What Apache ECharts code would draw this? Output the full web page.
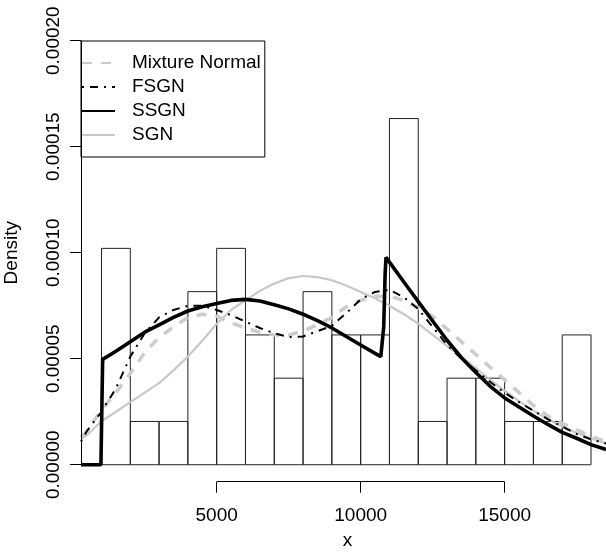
<!DOCTYPE html>
<html>
<head>
<meta charset="utf-8">
<script src="https://cdn.jsdelivr.net/npm/echarts@6/dist/echarts.min.js"></script>
<style>
html, body { margin: 0; padding: 0; background: #fff; }
#main { width: 606px; height: 552px; }
</style>
</head>
<body>
<div id="main"></div>
<script>
// histogram bins (width 1000) and their densities
var binStart = [1000, 2000, 3000, 4000, 5000, 6000, 7000, 8000, 9000, 10000, 11000, 12000, 13000, 14000, 15000, 16000, 17000];
var binDensity = [1.0204e-4, 2.041e-5, 2.041e-5, 8.163e-5, 1.0204e-4, 6.122e-5, 4.082e-5, 8.163e-5, 6.122e-5, 6.122e-5, 1.6327e-4, 2.041e-5, 4.082e-5, 4.082e-5, 2.041e-5, 2.041e-5, 6.122e-5];

// x positions where the smooth curves were read
var xGrid = [288, 500, 1000, 1500, 2000, 2500, 3000, 3500, 4000, 4500, 5000, 5500, 6000, 6500, 7000, 7500, 8000, 8500, 9000, 9500, 10000, 10500, 11000, 11500, 12000, 12500, 13000, 13500, 14000, 14500, 15000, 15500, 16000, 16500, 17000, 17500, 18000, 18520];

var mixtureNormal = [1.30e-5, 1.60e-5, 2.60e-5, 3.40e-5, 4.30e-5, 5.30e-5, 6.00e-5, 6.50e-5, 6.95e-5, 7.10e-5, 7.00e-5, 6.70e-5, 6.45e-5, 6.25e-5, 6.12e-5, 6.12e-5, 6.30e-5, 6.60e-5, 6.95e-5, 7.45e-5, 7.75e-5, 7.95e-5, 7.95e-5, 7.75e-5, 7.40e-5, 7.00e-5, 6.40e-5, 5.80e-5, 5.20e-5, 4.60e-5, 4.00e-5, 3.40e-5, 2.80e-5, 2.30e-5, 1.95e-5, 1.65e-5, 1.35e-5, 1.08e-5];

var fsgn = [1.10e-5, 1.60e-5, 2.50e-5, 3.60e-5, 5.10e-5, 6.20e-5, 6.95e-5, 7.30e-5, 7.50e-5, 7.50e-5, 7.30e-5, 7.05e-5, 6.75e-5, 6.45e-5, 6.20e-5, 6.02e-5, 6.05e-5, 6.30e-5, 6.55e-5, 7.15e-5, 7.80e-5, 8.15e-5, 8.25e-5, 7.90e-5, 7.35e-5, 6.50e-5, 5.65e-5, 5.00e-5, 4.45e-5, 3.90e-5, 3.40e-5, 2.95e-5, 2.55e-5, 2.15e-5, 1.80e-5, 1.45e-5, 1.20e-5, 1.00e-5];

var sgn = [1.20e-5, 1.40e-5, 2.05e-5, 2.50e-5, 2.95e-5, 3.40e-5, 3.85e-5, 4.45e-5, 5.10e-5, 5.85e-5, 6.65e-5, 7.30e-5, 7.75e-5, 8.20e-5, 8.55e-5, 8.80e-5, 8.90e-5, 8.85e-5, 8.70e-5, 8.45e-5, 8.15e-5, 7.85e-5, 7.50e-5, 7.10e-5, 6.65e-5, 6.12e-5, 5.60e-5, 5.10e-5, 4.55e-5, 4.00e-5, 3.50e-5, 3.00e-5, 2.55e-5, 2.15e-5, 1.80e-5, 1.50e-5, 1.25e-5, 1.00e-5];

// SSGN has jumps, so it has its own x positions
var ssgnX = [288, 980, 1040, 1500, 2000, 2500, 3000, 3500, 4000, 4500, 5000, 5500, 6000, 6500, 7000, 7500, 8000, 8500, 9000, 9500, 10000, 10500, 10700, 10760, 10800, 10850, 10880, 11500, 12000, 12500, 13000, 13500, 14000, 14500, 15000, 15500, 16000, 16500, 17000, 17500, 18000, 18520];
var ssgnY = [0, 0, 4.97e-5, 5.35e-5, 5.80e-5, 6.25e-5, 6.60e-5, 6.95e-5, 7.25e-5, 7.45e-5, 7.60e-5, 7.75e-5, 7.80e-5, 7.72e-5, 7.55e-5, 7.35e-5, 7.10e-5, 6.80e-5, 6.45e-5, 6.05e-5, 5.65e-5, 5.25e-5, 5.10e-5, 5.15e-5, 6.50e-5, 9.00e-5, 9.78e-5, 8.62e-5, 7.69e-5, 6.78e-5, 5.87e-5, 5.05e-5, 4.35e-5, 3.70e-5, 3.15e-5, 2.72e-5, 2.30e-5, 1.90e-5, 1.53e-5, 1.25e-5, 0.95e-5, 0.72e-5];

var xTicks = [5000, 10000, 15000];
var yTicks = [0, 0.00005, 0.0001, 0.00015, 0.0002];

function pairs(xs, ys) {
  var out = [];
  for (var i = 0; i < xs.length; i++) out.push([xs[i], ys[i]]);
  return out;
}

var histData = [];
for (var i = 0; i < binStart.length; i++) {
  histData.push([binStart[i], binStart[i] + 1000, binDensity[i]]);
}

var chart = echarts.init(document.getElementById('main'), null, { renderer: 'canvas' });
var font = 'Liberation Sans, Arial, Helvetica, sans-serif';

var option = {
  animation: false,
  backgroundColor: '#fff',
  textStyle: { fontFamily: font },
  grid: { left: 81, right: 0, top: 23.7, bottom: 70.3, containLabel: false, outerBoundsMode: 'none' },
  legend: {
    orient: 'vertical',
    left: 81, top: 41,
    padding: [12, 4, 12, 0],
    itemGap: 4,
    itemWidth: 33,
    itemHeight: 20,
    backgroundColor: '#fff',
    borderColor: '#000',
    borderWidth: 1,
    selectedMode: false,
    itemStyle: { color: 'rgba(0,0,0,0)', borderWidth: 0 },
    textStyle: { fontSize: 19, color: '#000', fontFamily: font, lineHeight: 20, padding: [0, 0, 0, 12] },
    data: ['Mixture Normal', 'FSGN', 'SSGN', 'SGN']
  },
  xAxis: {
    type: 'value',
    min: 288, max: 18520,
    name: 'x',
    nameLocation: 'middle',
    nameGap: 50,
    nameTextStyle: { fontSize: 19, color: '#000', fontFamily: font, padding: [0, 0, 0, 8] },
    axisLine: { show: false, onZero: false },
    splitLine: { show: false },
    axisTick: { show: true, length: 11, customValues: xTicks, lineStyle: { color: '#000' } },
    axisLabel: {
      customValues: xTicks, fontSize: 19, color: '#000', margin: 25, fontFamily: font,
      formatter: function (v) { return String(v); }
    }
  },
  yAxis: {
    type: 'value',
    min: -0.000008, max: 0.000208,
    name: 'Density',
    nameLocation: 'middle',
    nameRotate: 90,
    nameGap: 60,
    nameTextStyle: { fontSize: 19, color: '#000', fontFamily: font },
    axisLine: { show: false, onZero: false },
    splitLine: { show: false },
    axisTick: { show: true, length: 11, customValues: yTicks, lineStyle: { color: '#000' } },
    axisLabel: {
      customValues: yTicks, rotate: 90, fontSize: 19, color: '#000', margin: 18, fontFamily: font,
      formatter: function (v) { return Number(v).toFixed(5); }
    }
  },
  series: [
    {
      type: 'custom',
      name: 'hist',
      silent: true,
      z: 1,
      data: histData,
      renderItem: function (params, api) {
        var p0 = api.coord([api.value(0), api.value(2)]);
        var p1 = api.coord([api.value(1), 0]);
        return {
          type: 'rect',
          shape: { x: p0[0], y: p0[1], width: p1[0] - p0[0], height: p1[1] - p0[1] },
          style: { fill: 'none', stroke: '#222', lineWidth: 1 }
        };
      }
    },
    {
      type: 'line', name: 'SGN', z: 3, symbol: 'none', silent: true,
      data: pairs(xGrid, sgn),
      lineStyle: { color: '#c8c8c8', width: 2.2 },
      itemStyle: { color: '#c8c8c8' },
      markLine: {
        silent: true, symbol: 'none', label: { show: false },
        lineStyle: { color: '#000', width: 1, type: 'solid' },
        data: [
          [{ coord: [5000, -0.000008] }, { coord: [15000, -0.000008] }],
          [{ coord: [288, 0] }, { coord: [288, 0.0002] }]
        ]
      }
    },
    {
      type: 'line', name: 'Mixture Normal', z: 4, symbol: 'none', silent: true,
      data: pairs(xGrid, mixtureNormal),
      lineStyle: { color: '#cccccc', width: 3.5, type: [10, 9], cap: 'butt' },
      itemStyle: { color: '#cccccc' }
    },
    {
      type: 'line', name: 'SSGN', z: 5, symbol: 'none', silent: true,
      data: pairs(ssgnX, ssgnY),
      lineStyle: { color: '#000', width: 3.6 },
      itemStyle: { color: '#000' }
    },
    {
      type: 'line', name: 'FSGN', z: 6, symbol: 'none', silent: true,
      data: pairs(xGrid, fsgn),
      lineStyle: { color: '#000', width: 2, type: [2, 6, 8, 6], cap: 'butt' },
      itemStyle: { color: '#000' }
    }
  ]
};

chart.setOption(option);
</script>
</body>
</html>
